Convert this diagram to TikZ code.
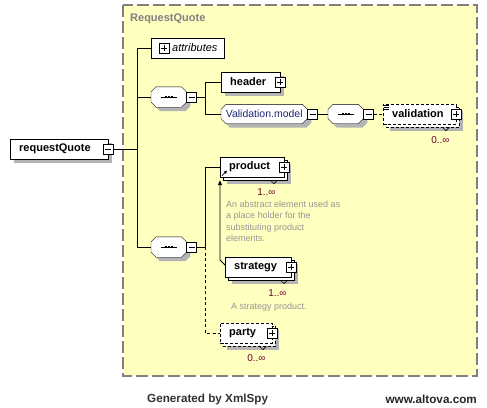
\documentclass[tikz,border=0pt]{standalone}
\usepackage{fontspec}
\setmainfont{Liberation Sans}
\usetikzlibrary{arrows.meta}

\definecolor{groupyellow}{RGB}{255,255,192}
\definecolor{framegray}{RGB}{128,128,128}
\definecolor{shadegray}{RGB}{180,180,180}
\definecolor{notegray}{RGB}{150,150,150}
\definecolor{cardcol}{RGB}{110,0,50}
\definecolor{refcol}{RGB}{30,40,120}

\pgfdeclarelayer{back}
\pgfdeclarelayer{shade}
\pgfsetlayers{back,shade,main}

% gray shadow behind a box
\newcommand\boxshadow[2]{%
  \begin{pgfonlayer}{shade}
  \fill[shadegray] ([shift={(#2,-#2)}]#1.north west) rectangle ([shift={(#2,-#2)}]#1.south east);
  \end{pgfonlayer}}
% second copy behind a box that occurs many times
\newcommand\stackcopy[2]{%
  \boxshadow{#1}{7pt}
  \begin{pgfonlayer}{shade}
  \draw[fill=white,#2] ([shift={(3pt,-3pt)}]#1.north west) rectangle ([shift={(3pt,-3pt)}]#1.south east);
  \end{pgfonlayer}}
% octagon round a node
\newcommand\octpath[4]{%
  \path[#1] ([shift={(#3+5pt,#4)}]#2.north west) -- ([shift={(#3-5pt,#4)}]#2.north east)
    -- ([shift={(#3,#4-5pt)}]#2.north east) -- ([shift={(#3,#4+5pt)}]#2.south east)
    -- ([shift={(#3-5pt,#4)}]#2.south east) -- ([shift={(#3+5pt,#4)}]#2.south west)
    -- ([shift={(#3,#4+5pt)}]#2.south west) -- ([shift={(#3,#4-5pt)}]#2.north west) -- cycle;}
\newcommand\octbox[1]{%
  \begin{pgfonlayer}{shade}
  \octpath{fill=shadegray}{#1}{4pt}{-4pt}
  \octpath{draw,fill=white}{#1}{0pt}{0pt}
  \end{pgfonlayer}}
% sequence sign
\newcommand\seqsign[1]{%
  \draw (#1.center) +(-8pt,0pt) -- +(8pt,0pt);
  \foreach \d in {-3,0,3}
    \fill ([xshift=\d pt]#1.center) +(-1.2pt,-1.2pt) rectangle +(1.2pt,1.2pt);}

\tikzset{
  elem/.style={draw,fill=white,anchor=west,minimum height=20pt,inner xsep=9pt,inner ysep=0pt,
    text width=#1,align=left,font=\bfseries\fontsize{11}{13}\selectfont},
  optelem/.style={elem=#1,dash pattern=on 3pt off 2pt},
  pmbox/.style={draw,fill=white,minimum size=10pt,inner sep=0pt},
  plusbox/.style={pmbox,path picture={
    \draw ([xshift=2pt]path picture bounding box.west) -- ([xshift=-2pt]path picture bounding box.east);
    \draw ([yshift=-2pt]path picture bounding box.north) -- ([yshift=2pt]path picture bounding box.south);}},
  minusbox/.style={pmbox,path picture={
    \draw ([xshift=2pt]path picture bounding box.west) -- ([xshift=-2pt]path picture bounding box.east);}},
  seqbox/.style={minimum width=35pt,minimum height=20pt,inner sep=0pt,anchor=west},
  groupbox/.style={minimum width=86pt,minimum height=19pt,inner sep=0pt,anchor=west,
    text=refcol,font=\fontsize{10.5}{12}\selectfont},
  card/.style={text=cardcol,font=\fontsize{10}{12}\selectfont,inner sep=0pt},
  note/.style={text=notegray,font=\fontsize{9}{11.2}\selectfont,inner sep=0pt,align=left,anchor=north west},
  optline/.style={dash pattern=on 3pt off 2.5pt},
  notch/.style={line width=0.6pt},
}

\begin{document}
\begin{tikzpicture}[x=1pt,y=-1pt,line width=0.9pt]
\useasboundingbox (0,0) rectangle (487,407);

% group frame
\begin{pgfonlayer}{back}
\fill[white] (0,0) rectangle (487,407);
\draw[fill=groupyellow,draw=framegray,line width=1.3pt,dash pattern=on 12pt off 4pt]
  (123,5) rectangle (477,376);
\end{pgfonlayer}
\node[anchor=west,text=framegray,font=\bfseries\fontsize{11}{13}\selectfont,inner sep=0pt]
  (grp) at (130,19) {RequestQuote};

% root element
\node[elem=80pt] (rq) at (10,149) {requestQuote};
\boxshadow{rq}{4pt}
\node[minusbox] (rqm) at (rq.east) {};

% attributes
\node[elem=61pt,inner xsep=6pt,font=\itshape\fontsize{11}{13}\selectfont] (attr) at (151,48) {\hspace*{15pt}attributes};
\node[plusbox] (attrp) at ([xshift=13pt]attr.west) {};

% first sequence
\node[seqbox] (seqa) at (151,97) {};
\octbox{seqa}
\seqsign{seqa}
\node[minusbox,anchor=west] (seqam) at (seqa.east) {};
\node[elem=41pt] (hdr) at (221,82) {header};
\boxshadow{hdr}{4pt}
\node[plusbox] (hdrp) at (hdr.east) {};
\node[groupbox] (vmod) at (221,114) {Validation.model};
\octbox{vmod}
\node[minusbox,anchor=west] (vmodm) at (vmod.east) {};
\node[seqbox,minimum height=19pt] (seqc) at (328,114) {};
\octbox{seqc}
\seqsign{seqc}
\node[minusbox,anchor=west] (seqcm) at (seqc.east) {};
\node[optelem=55pt] (valid) at (383,114) {validation};
\stackcopy{valid}{dash pattern=on 3pt off 2pt}
\node[plusbox] (validp) at (valid.east) {};
\foreach \k in {1.5,3.7,5.9}
  \draw[line width=0.6pt] ([shift={(1pt,-\k pt)}]valid.north west) -- ++(5pt,0pt);
\draw[notch] ([shift={(-14pt,-3pt)}]valid.south east) -- ++(3.5pt,-3.5pt) -- ++(3.5pt,3.5pt);
\node[card] (validc) at ([shift={(-16pt,-16pt)}]valid.south east) {0..∞};

% second sequence
\node[seqbox] (seqb) at (151,247) {};
\octbox{seqb}
\seqsign{seqb}
\node[minusbox,anchor=west] (seqbm) at (seqb.east) {};
\node[elem=46pt] (prod) at (220,167) {product};
\stackcopy{prod}{solid}
\node[plusbox] (prodp) at (prod.east) {};
\draw[line width=0.7pt,-{Triangle[width=3pt,length=3pt]}] ([shift={(2pt,1.5pt)}]prod.south west) -- ++(5pt,5pt);
\draw[notch] ([shift={(-14pt,-3pt)}]prod.south east) -- ++(3.5pt,-3.5pt) -- ++(3.5pt,3.5pt);
\node[card] (prodc) at ([shift={(-18pt,-15pt)}]prod.south east) {1..∞};
\node[note] (prodn) at (226,201) {An abstract element used as\\a place holder for the\\substituting product\\elements.};

\node[elem=48pt] (strat) at (225,267) {strategy};
\stackcopy{strat}{solid}
\node[plusbox] (stratp) at (strat.east) {};
\draw[notch] ([shift={(-11pt,-3pt)}]strat.south east) -- ++(3.5pt,-3.5pt) -- ++(3.5pt,3.5pt);
\node[card] (stratc) at ([shift={(-14pt,-15.5pt)}]strat.south east) {1..∞};
\node[note,anchor=west] (stratn) at (231,307) {A strategy product.};

\node[optelem=34pt] (party) at (220,333) {party};
\stackcopy{party}{dash pattern=on 3pt off 2pt}
\node[plusbox] (partyp) at (party.east) {};
\draw[notch] ([shift={(-13pt,-3pt)}]party.south east) -- ++(3.5pt,-3.5pt) -- ++(3.5pt,3.5pt);
\node[card] (partyc) at ([shift={(-16pt,-15pt)}]party.south east) {0..∞};

% connectors
\coordinate (trunk) at (137,149);
\draw (rqm.east) -- (trunk);
\draw (trunk |- attr.west) -- (trunk |- seqb.west);
\draw (trunk |- attr.west) -- (attr.west);
\draw (trunk |- seqa.west) -- (seqa.west);
\draw (trunk |- seqb.west) -- (seqb.west);

\coordinate (forka) at (205,97);
\draw (seqam.east) -- (forka);
\draw (forka |- hdr.west) -- (forka |- vmod.west);
\draw (forka |- hdr.west) -- (hdr.west);
\draw (forka |- vmod.west) -- (vmod.west);
\draw (vmodm.east) -- (seqc.west);
\draw[optline] (seqcm.east) -- (valid.west);

\coordinate (forkb) at (205,247);
\draw (seqbm.east) -- (forkb);
\draw (forkb |- prod.west) -- (forkb);
\draw (forkb |- prod.west) -- (prod.west);
\draw[optline] (forkb) -- (forkb |- party.west) -- (party.west);

% substitution
\draw[line width=0.8pt,-{Triangle[width=4pt,length=5pt]}]
  ([yshift=2pt]strat.west) -- ++(-5,-5) -- ([yshift=-3pt]prod.south west);

% footer
\node[anchor=west,text=black!80,font=\bfseries\fontsize{11.7}{14}\selectfont,inner sep=0pt]
  (gen) at (147,399) {Generated by XmlSpy};
\node[anchor=east,text=black!85,font=\bfseries\fontsize{11.7}{14}\selectfont,inner sep=0pt]
  (web) at (477,399) {www.altova.com};
\end{tikzpicture}
\end{document}
